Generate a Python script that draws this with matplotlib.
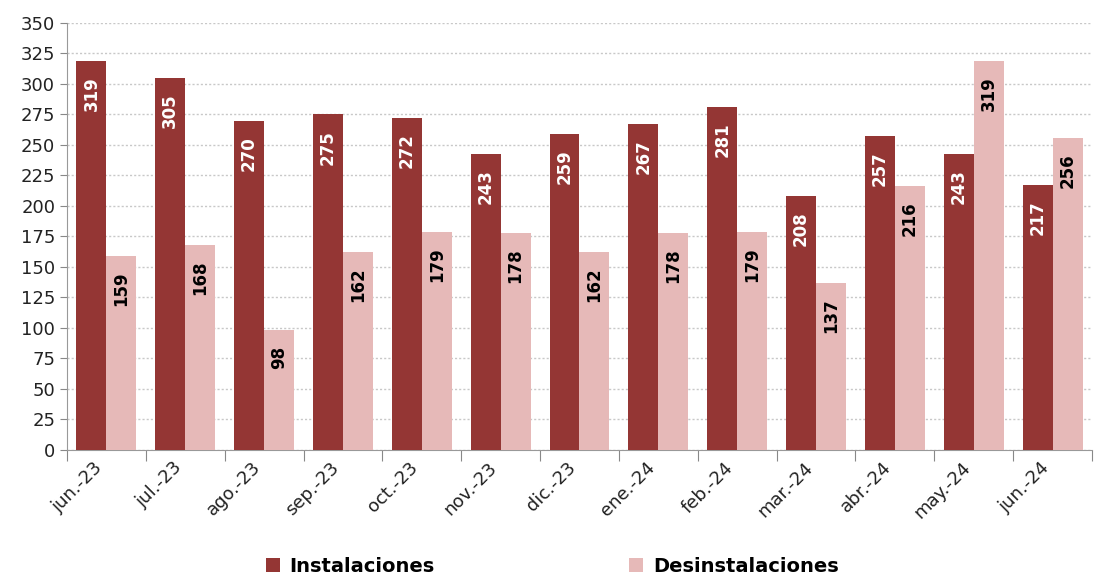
import matplotlib
matplotlib.use("Agg")
import matplotlib.pyplot as plt
import numpy as np

categories = ["jun.-23", "jul.-23", "ago.-23", "sep.-23", "oct.-23", "nov.-23", "dic.-23",
              "ene.-24", "feb.-24", "mar.-24", "abr.-24", "may.-24", "jun.-24"]
instalaciones = [319, 305, 270, 275, 272, 243, 259, 267, 281, 208, 257, 243, 217]
desinstalaciones = [159, 168, 98, 162, 179, 178, 162, 178, 179, 137, 216, 319, 256]
series_names = ["Instalaciones", "Desinstalaciones"]
colors = ["#943634", "#E6B9B8"]
label_colors = ["white", "black"]

plt.rcParams['font.family'] = ['DejaVu Sans']

fig = plt.figure(figsize=(10.94, 5.79), dpi=100)
ax = fig.add_axes([0.0612, 0.2228, 0.937, 0.7375])

x = np.arange(len(categories))
w = 0.38
for i, (vals, name) in enumerate(zip([instalaciones, desinstalaciones], series_names)):
    pos = x + (i - 0.5) * w
    bars = ax.bar(pos, vals, width=w, color=colors[i], label=name, zorder=3, linewidth=0)
    for b, v in zip(bars, vals):
        ax.annotate(str(v), xy=(b.get_x() + b.get_width() / 2, v), xytext=(0, -11),
                    textcoords="offset points", rotation=90, ha="center", va="top",
                    color=label_colors[i], fontsize=12, fontweight="bold", zorder=4)

ax.set_xlim(-0.5, len(categories) - 0.5)
ax.set_ylim(0, 350)
ax.set_yticks(np.arange(0, 351, 25))
ax.tick_params(axis='y', labelsize=13, length=5, color="#888888", colors="#222222")

ax.set_xticks(np.arange(-0.5, len(categories), 1))
ax.set_xticklabels([])
ax.tick_params(axis='x', which='major', length=8, color="#888888")
ax.set_xticks(x, minor=True)
ax.set_xticklabels(categories, minor=True, rotation=45, ha="right", va="top",
                   fontsize=13, color="#222222")
ax.tick_params(axis='x', which='minor', length=0, pad=6)

ax.grid(axis='y', linestyle=(0, (1.5, 1.5)), color="#C8C8C8", linewidth=1, zorder=0)
for s in ["top", "right"]:
    ax.spines[s].set_visible(False)
for s in ["left", "bottom"]:
    ax.spines[s].set_color("#999999")

leg = fig.legend(loc="lower center", ncol=2, bbox_to_anchor=(0.505, -0.025), frameon=False,
                 prop={'weight': 'bold', 'size': 14}, handlelength=0.7, handleheight=0.7,
                 handletextpad=0.5, columnspacing=10)

fig.savefig("out.png", dpi=100)
